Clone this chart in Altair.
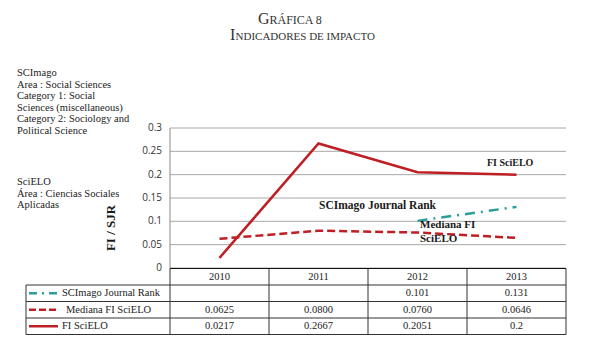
import altair as alt
import pandas as pd

# ---------------- data ----------------
years = ["2010", "2011", "2012", "2013"]
fi_scielo = [0.0217, 0.2667, 0.2051, 0.2]
mediana = [0.0625, 0.0800, 0.0760, 0.0646]
sjr_years = ["2012", "2013"]
sjr = [0.101, 0.131]

fi_labels = ["0.0217", "0.2667", "0.2051", "0.2"]
med_labels = ["0.0625", "0.0800", "0.0760", "0.0646"]
sjr_labels = ["0.101", "0.131"]
y_ticks = [0, 0.05, 0.1, 0.15, 0.2, 0.25, 0.3]
y_tick_labels = ["0", "0.05", "0.1", "0.15", "0.2", "0.25", "0.3"]

series_names = ["SCImago Journal Rank", "Mediana FI SciELO", "FI SciELO"]
scimago_note = ["SCImago", "Area :  Social Sciences", "Category 1:  Social",
                "Sciences (miscellaneous)", "Category 2: Sociology and",
                "Political Science"]
scielo_note = ["SciELO", "Área : Ciencias Sociales", "Aplicadas"]

RED = "#BE1E24"
TEAL = "#2A9E9C"
SERIF = "Liberation Serif"
SANS = "Open Sans"

fi_df = pd.DataFrame({"year": years, "value": fi_scielo, "label": fi_labels})
med_df = pd.DataFrame({"year": years, "value": mediana, "label": med_labels})
sjr_df = pd.DataFrame({"year": sjr_years, "value": sjr, "label": sjr_labels})
year_df = pd.DataFrame({"year": years})
tick_df = pd.DataFrame({"tick": y_ticks, "tlabel": y_tick_labels})
one = pd.DataFrame({"a": [0]})

xscale = alt.Scale(type="point", domain=years, padding=0.5)
yscale = alt.Scale(domain=[0, 0.3], nice=False, zero=True)

X = alt.X("year:N", scale=xscale, axis=None)

# grid lines drawn from tick values
grid_layer = alt.Chart(tick_df).mark_rule(color="#a8a8a8", strokeWidth=1).encode(
    y=alt.Y("tick:Q", scale=yscale, axis=None),
    x=alt.value(0), x2=alt.value(396),
)
# tick labels
tick_labels = alt.Chart(tick_df).mark_text(
    font=SANS, fontSize=10, color="#333333", align="right", baseline="middle"
).encode(
    y=alt.Y("tick:Q", scale=yscale, axis=None),
    x=alt.value(-8), text="tlabel:N",
)

def line_layer(df, color, dash, width=2.5):
    kw = dict(color=color, strokeWidth=width)
    if dash:
        kw["strokeDash"] = dash
    return alt.Chart(df).mark_line(**kw).encode(
        x=X, y=alt.Y("value:Q", scale=yscale, axis=None))

lines = [
    line_layer(med_df, RED, [8, 4]),
    line_layer(fi_df, RED, None),
    line_layer(sjr_df, TEAL, [10, 6, 2, 6]),
]

def hrule(x1, x2, y, color="#333333", width=1, dash=None):
    kw = dict(color=color, strokeWidth=width)
    if dash:
        kw["strokeDash"] = dash
    return alt.Chart(one).mark_rule(**kw).encode(
        x=alt.value(x1), x2=alt.value(x2), y=alt.value(y))

def vrule(x, y1, y2, color="#333333"):
    return alt.Chart(one).mark_rule(color=color, strokeWidth=1).encode(
        x=alt.value(x), y=alt.value(y1), y2=alt.value(y2))

def text_at(txt, x, y, size=10, bold=False, align="left", baseline="middle",
            angle=None, font=SERIF, color="#222222", line_height=None):
    kw = dict(text=txt, fontSize=size, font=font, align=align, baseline=baseline,
              color=color, fontWeight="bold" if bold else "normal")
    if angle is not None:
        kw["angle"] = angle
    if line_height is not None:
        kw["lineHeight"] = line_height
    return alt.Chart(one).mark_text(**kw).encode(x=alt.value(x), y=alt.value(y))

# table geometry (plot coordinates)
row_y = [140.5, 157, 173.5, 190, 206.5]
col_x = [0, 99, 198, 297, 396]
leg_x = -144

frame = [vrule(0, 0, 140, color="#8a8a8a")]
table = []
table.append(hrule(0, 396, row_y[0], color="#111111"))
for yy in row_y[1:]:
    table.append(hrule(leg_x, 396, yy))
for xx in col_x:
    table.append(vrule(xx, row_y[0], row_y[4]))
table.append(vrule(leg_x, row_y[1], row_y[4]))

def cell_text(df, field, yc):
    return alt.Chart(df).mark_text(font=SERIF, fontSize=10.5, color="#222222",
                                   baseline="middle").encode(
        x=X, y=alt.value(yc), text=f"{field}:N")

centers = [(row_y[i] + row_y[i + 1]) / 2 for i in range(4)]
table.append(cell_text(year_df, "year", centers[0]))
table.append(cell_text(sjr_df, "label", centers[1]))
table.append(cell_text(med_df, "label", centers[2]))
table.append(cell_text(fi_df, "label", centers[3]))

# legend samples
table.append(hrule(-141, -112, centers[1], color=TEAL, width=2.5, dash=[8, 5, 2, 5]))
table.append(hrule(-141, -112, centers[2], color=RED, width=2.5, dash=[7, 3]))
table.append(hrule(-141, -112, centers[3], color=RED, width=2.5))
table.append(text_at(series_names[0], -108, centers[1], size=10.5))
table.append(text_at(series_names[1], -104, centers[2], size=10.5))
table.append(text_at(series_names[2], -108, centers[3], size=10.5))

# annotations
ann = [
    text_at("FI SciELO", 317, 35, size=10, bold=True, color="#1a1a1a"),
    text_at("SCImago Journal Rank", 149, 78, size=11.5, bold=True, color="#1a1a1a"),
    text_at("Mediana FI", 250, 97, size=11, bold=True, color="#1a1a1a"),
    text_at("SciELO", 250, 111, size=11, bold=True, color="#1a1a1a"),
    text_at("FI / SJR", -59, 100, size=13, bold=True, angle=270, align="center",
            color="#1a1a1a"),
    text_at(scimago_note, -153, -60, size=10.5, baseline="top", line_height=11.5),
    text_at(scielo_note, -153, 49, size=10.5, baseline="top", line_height=11.5),
    # title in small caps style
    text_at("G", 88, -104.5, size=16, baseline="alphabetic", color="#333333"),
    text_at("RÁFICA 8", 99.5, -104.5, size=12, baseline="alphabetic", color="#333333"),
    text_at("I", 60, -88, size=16, baseline="alphabetic", color="#333333"),
    text_at("NDICADORES DE IMPACTO", 65.5, -88, size=11, baseline="alphabetic",
            color="#333333"),
]

chart = alt.layer(grid_layer, tick_labels, *frame, *lines, *table, *ann).properties(
    width=396, height=140,
    autosize=alt.AutoSizeParams(type="none"),
    padding={"left": 170, "top": 128, "right": 34, "bottom": 87},
    background="white",
).configure_view(stroke=None)

chart.save("out.html", embed_options={"renderer": "svg", "actions": False})
